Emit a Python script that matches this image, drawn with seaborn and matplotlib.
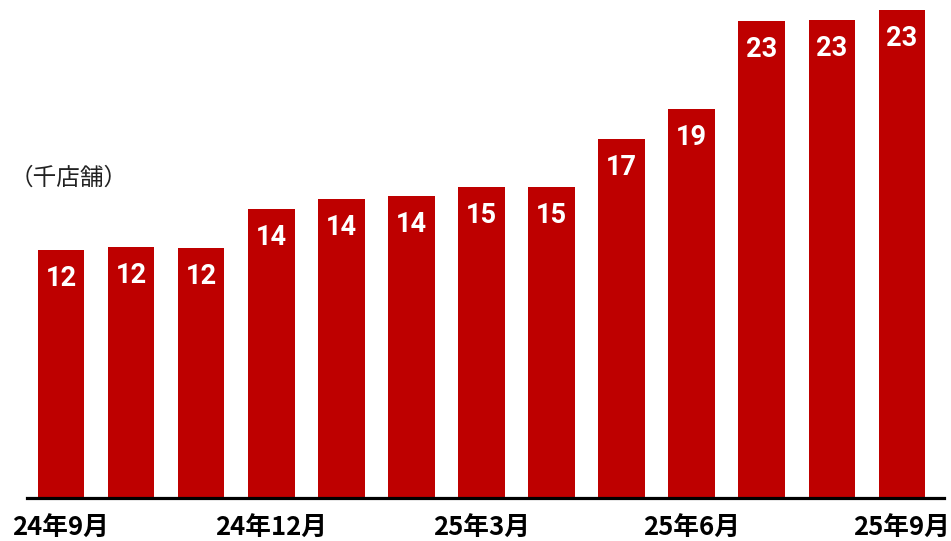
import matplotlib
matplotlib.use("Agg")
import matplotlib.pyplot as plt
import seaborn as sns
import pandas as pd

months = ["24年9月", "24年10月", "24年11月", "24年12月", "25年1月", "25年2月",
          "25年3月", "25年4月", "25年5月", "25年6月", "25年7月", "25年8月", "25年9月"]
stores = [11.93, 12.06, 12.02, 13.89, 14.37, 14.53, 14.97, 14.98, 17.26, 18.72, 22.96, 22.99, 23.47]
labels = ["12", "12", "12", "14", "14", "14", "15", "15", "17", "19", "23", "23", "23"]
shown_ticks = ["24年9月", "24年12月", "25年3月", "25年6月", "25年9月"]
unit_label = "（千店舗）"

sns.set_theme(style="white")
plt.rcParams["font.family"] = ["Noto Sans CJK JP", "DejaVu Sans"]

W, H = 951, 541
fig = plt.figure(figsize=(W / 100, H / 100), dpi=100)
ax = fig.add_axes([27 / W, 43 / H, (944 - 27) / W, (H - 43) / H])

df = pd.DataFrame({"month": months, "stores": stores})
sns.barplot(data=df, x="month", y="stores", color="#BE0000", saturation=1,
            width=0.666, ax=ax, linewidth=0)

ax.set_xlim(-0.485, 12.6)
ax.set_ylim(0, 498 / 20.78)

for i, (v, lab) in enumerate(zip(stores, labels)):
    ax.annotate(lab, (i, v), xytext=(0, -20.5), textcoords="offset points",
                ha="center", va="center", color="white", fontsize=19.5,
                fontweight="bold", family=["Roboto", "DejaVu Sans"])

ticks = [months.index(t) for t in shown_ticks]
ax.set_xticks(ticks)
ax.set_xticklabels(shown_ticks, fontsize=18.5, fontweight="bold", color="black")
ax.tick_params(axis="x", length=0, pad=12)
ax.set_yticks([])
ax.set_xlabel("")
ax.set_ylabel("")
for s in ["top", "right", "left"]:
    ax.spines[s].set_visible(False)
ax.spines["bottom"].set_color("black")
ax.spines["bottom"].set_linewidth(2.3)

fig.text(10 / W, 1 - 178 / H, unit_label, ha="left", va="center",
         fontsize=17, color="#222222")

fig.savefig("out.png", dpi=100)
